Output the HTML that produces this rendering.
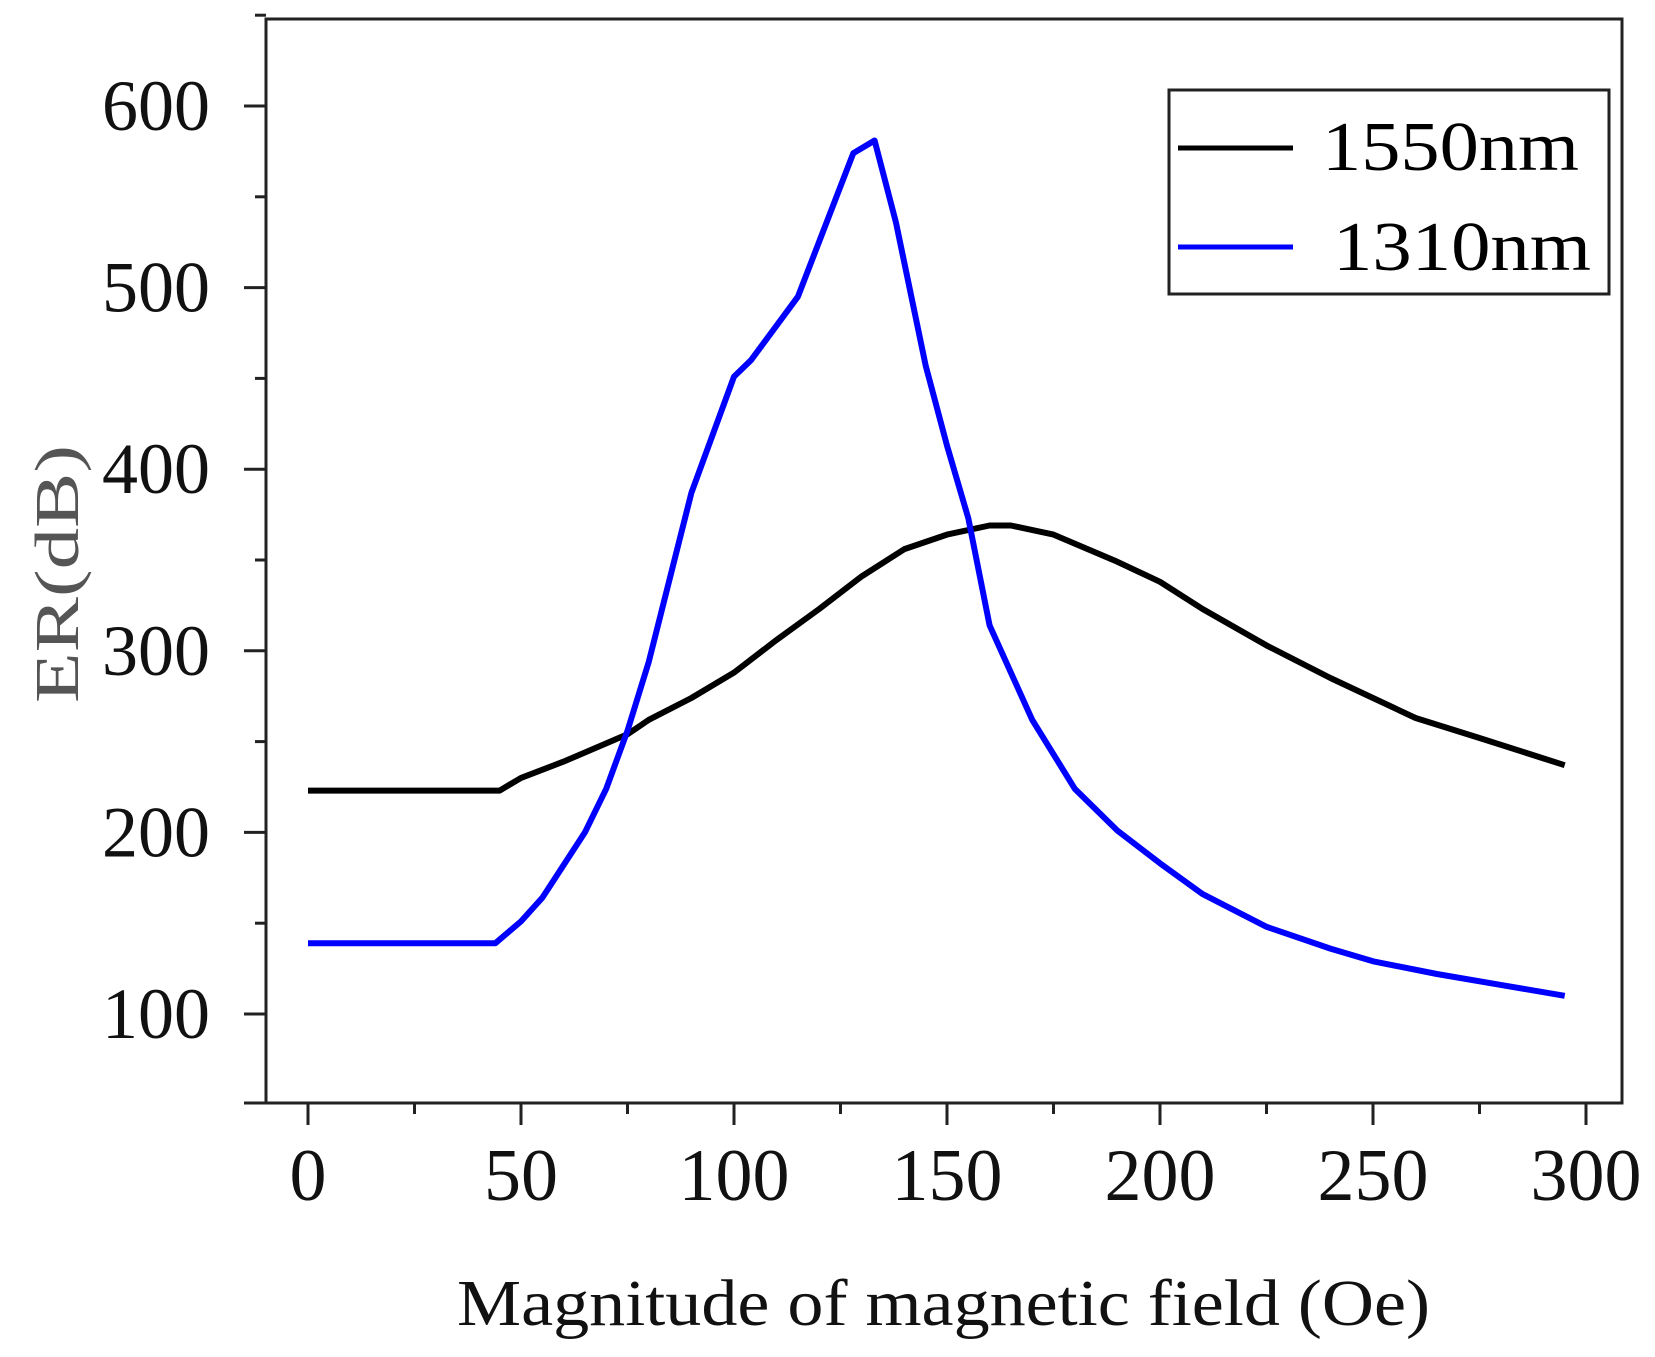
<!DOCTYPE html>
<html><head><meta charset="utf-8"><style>
html,body{margin:0;padding:0;background:#fff;}
svg{display:block;font-family:"Liberation Serif",serif;}
</style></head><body>
<svg id="chart" width="1655" height="1357" viewBox="0 0 1655 1357" xmlns="http://www.w3.org/2000/svg">
<g id="axes"></g>
<g id="series"></g>
<text transform="translate(78,574) rotate(-90)" text-anchor="middle" font-size="62" fill="#555" textLength="258" lengthAdjust="spacingAndGlyphs">ER(dB)</text>
<text x="457" y="1325" font-size="66" fill="#111" textLength="973" lengthAdjust="spacingAndGlyphs">Magnitude of magnetic field (Oe)</text>
<g>
<rect x="1169" y="90" width="440" height="204" fill="#fff" stroke="#222" stroke-width="3"/>
<line x1="1178" y1="148" x2="1293" y2="148" stroke="#000" stroke-width="5"/>
<text x="1322" y="170" font-size="70" textLength="257" lengthAdjust="spacingAndGlyphs">1550nm</text>
<line x1="1178" y1="247" x2="1293" y2="247" stroke="#0000ff" stroke-width="5"/>
<text x="1333" y="270" font-size="70" textLength="258" lengthAdjust="spacingAndGlyphs">1310nm</text>
</g>
</svg>
<script>
const xTicks = [0, 50, 100, 150, 200, 250, 300];
const yTicks = [100, 200, 300, 400, 500, 600];
const x1550 = [0, 45, 50, 60, 70, 75, 80, 90, 100, 110, 120, 130, 140, 150, 160, 165, 175, 190, 200, 210, 225, 240, 250, 260, 275, 295];
const y1550 = [223, 223, 230, 239, 249, 254, 262, 274, 288, 306, 323, 341, 356, 364, 369, 369, 364, 349, 338, 323, 303, 285, 274, 263, 252, 237];
const x1310 = [0, 44, 50, 55, 65, 70, 75, 80, 90, 100, 104, 115, 128, 133, 138, 145, 150, 155, 160, 170, 180, 190, 200, 210, 225, 240, 250, 265, 280, 295];
const y1310 = [139, 139, 151, 164, 200, 224, 256, 294, 387, 451, 460, 495, 574, 581, 536, 457, 413, 373, 314, 262, 224, 201, 183, 166, 148, 136, 129, 122, 116, 110];

const NS = "http://www.w3.org/2000/svg";
const X0 = 308, XS = 4.26;
const Y100 = 1014, YS = 1.816;
const sx = v => X0 + v * XS;
const sy = v => Y100 - (v - 100) * YS;
const L = 266, R = 1622, T = 19, B = 1103;

function mk(tag, attrs, parent) {
  const e = document.createElementNS(NS, tag);
  for (const k in attrs) e.setAttribute(k, attrs[k]);
  parent.appendChild(e);
  return e;
}
const axes = document.getElementById('axes');
const frame = mk('rect', {x: L, y: T, width: R - L, height: B - T, fill: 'none', stroke: '#222', 'stroke-width': 3}, axes);



for (let v = 0; v <= 300; v += 25) {
  const major = v % 50 === 0;
  const t = mk('line', {x1: sx(v), x2: sx(v), y1: B, y2: B + (major ? 22 : 11), stroke: '#222', 'stroke-width': 3}, axes);
  
  
}
xTicks.forEach(v => {
  const t = mk('text', {x: sx(v), y: 1200, 'text-anchor': 'middle', 'font-size': 74, fill: '#111'}, axes);
  t.textContent = v;
  
  
});
for (let v = 100; v <= 650; v += 50) {
  const major = v % 100 === 0;
  const t = mk('line', {x1: L - (major ? 22 : 11), x2: L, y1: sy(v), y2: sy(v), stroke: '#222', 'stroke-width': 3}, axes);
  
  
}
const yt = mk('line', {x1: L - 22, x2: L, y1: B, y2: B, stroke: '#222', 'stroke-width': 3}, axes);


yTicks.forEach(v => {
  const t = mk('text', {x: 210, y: sy(v) + 24, 'text-anchor': 'end', 'font-size': 72, fill: '#111'}, axes);
  t.textContent = v;
  
  
});

const series = document.getElementById('series');
function line(xs, ys, color, name) {
  const d = xs.map((x, i) => (i ? 'L' : 'M') + sx(x).toFixed(1) + ',' + sy(ys[i]).toFixed(1)).join('');
  const p = mk('path', {d: d, fill: 'none', stroke: color, 'stroke-width': 6, 'stroke-linejoin': 'round'}, series);
  
  
}
line(x1550, y1550, '#000', 'line-1550nm');
line(x1310, y1310, '#0000ff', 'line-1310nm');
</script>
</body></html>
